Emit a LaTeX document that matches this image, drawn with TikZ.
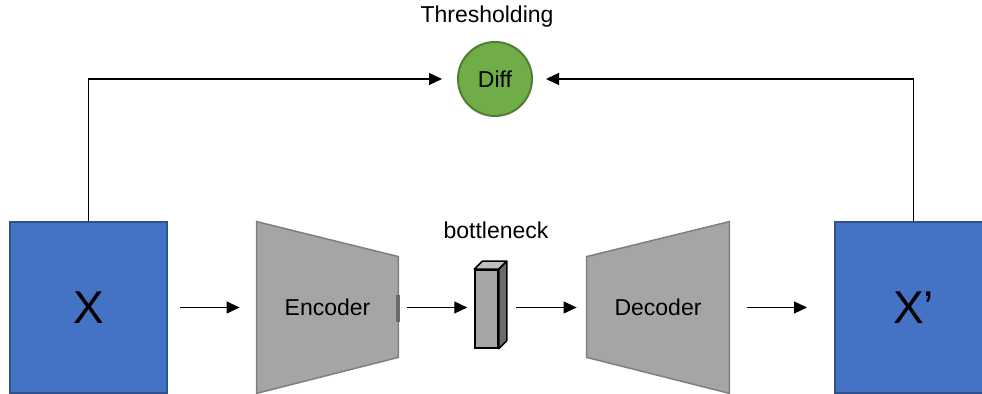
\documentclass[tikz,border=0pt]{standalone}
\usepackage{fontspec}
\setmainfont{Liberation Sans}
\usepackage{tikz}
\usetikzlibrary{arrows.meta,positioning,backgrounds,calc}
\definecolor{imgblue}{HTML}{4472C4}
\definecolor{imgedge}{HTML}{2F528F}
\definecolor{diffgreen}{HTML}{70AD47}
\definecolor{diffedge}{HTML}{507E32}
\definecolor{netgray}{HTML}{A5A5A5}
\definecolor{netedge}{HTML}{7F7F7F}

\begin{document}
\begin{tikzpicture}[x=0.5pt, y=-0.5pt,
        imgbox/.style={draw=imgedge, fill=imgblue, line width=1pt, minimum width=78.5pt,
                       minimum height=85.5pt, font=\fontsize{23}{27}\selectfont},
        netbox/.style={inner sep=0pt, minimum height=85.5pt, font=\fontsize{11.5}{14}\selectfont},
        netshape/.style={draw=netedge, fill=netgray, line width=0.75pt},
        lbl/.style={font=\fontsize{11.5}{14}\selectfont},
        arr/.style={-{Triangle[length=6.5pt, width=6pt]}, line width=0.6pt},
    ]
    \useasboundingbox (0,0) rectangle (982,394);

    % Input and reconstruction
    \node[imgbox] (x) at (88.5,307.5) {X};
    \node[imgbox] (xp) at (913.5,307.5) {X’};

    % Encoder and decoder
    \node[netbox, minimum width=70.5pt] (enc) at (327.5,307.5) {Encoder};
    \node[netbox, minimum width=71pt] (dec) at (658,307.5) {Decoder};
    \begin{scope}[on background layer]
        \draw[netshape] (enc.north west) -- ($(enc.north east)+(0,35)$)
            -- ($(enc.south east)+(0,-36)$) -- (enc.south west) -- cycle;
        \fill[netedge!85!black] ($(enc.east)+(-2,-12.5)$) rectangle ($(enc.east)+(2,14.5)$);
        \draw[netshape] ($(dec.north west)+(0,35)$) -- (dec.north east)
            -- (dec.south east) -- ($(dec.south west)+(0,-36)$) -- cycle;
    \end{scope}

    % Bottleneck
    \node[draw, fill=netgray, line width=0.75pt, minimum width=11.5pt, minimum height=39pt,
          inner sep=0pt] (bn) at (486.5,309) {};
    \draw[fill=netgray!70!white, line width=0.75pt, line join=round] (bn.north west)
        -- ($(bn.north west)+(8,-8)$) -- ($(bn.north east)+(8,-8)$) -- (bn.north east) -- cycle;
    \draw[fill=netgray!65!black, line width=0.75pt, line join=round] (bn.north east)
        -- ($(bn.north east)+(8,-8)$) -- ($(bn.south east)+(8,-8)$) -- (bn.south east) -- cycle;
    \node[lbl] (bnlabel) at (496,230) {bottleneck};

    % Difference
    \node[circle, draw=diffedge, fill=diffgreen, line width=1pt, minimum size=37pt,
          inner sep=0pt, lbl] (diff) at (495,79) {Diff};
    \node[lbl] (thresh) at (487,17) {Thresholding};

    % Forward path
    \draw[arr, shorten <=6pt, shorten >=8.5pt] (x.east) -- (enc.west);
    \draw[arr, shorten <=4.5pt, shorten >=3.5pt] (enc.east) -- (enc.east -| bn.west);
    \draw[arr, shorten <=8.5pt, shorten >=5pt] (dec.west -| bn.east) -- (dec.west);
    \draw[arr, shorten <=9pt, shorten >=13.5pt] (dec.east) -- (xp.west);

    % Comparison paths
    \draw[arr, shorten >=7.5pt] (x.north) |- (diff.west);
    \draw[arr, shorten >=6.5pt] (xp.north) |- (diff.east);
\end{tikzpicture}
\end{document}
